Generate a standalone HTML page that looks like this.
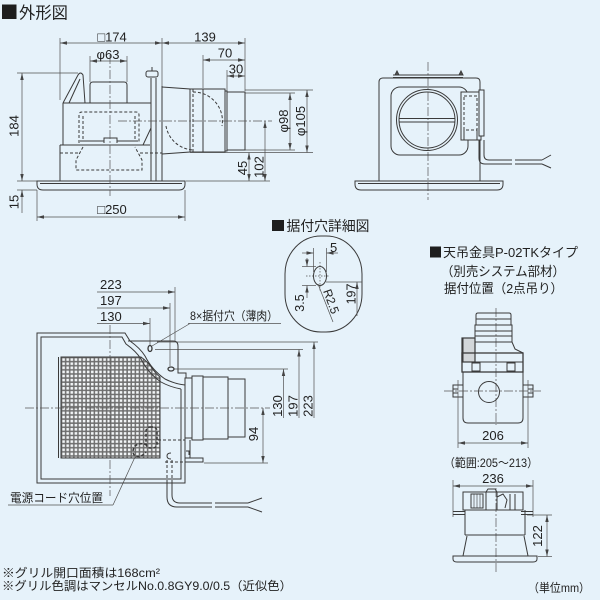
<!DOCTYPE html>
<html><head><meta charset="utf-8">
<style>
html,body{margin:0;padding:0;background:#e6f2fa;}
svg{display:block}
text{font-family:"Liberation Sans","Noto Sans CJK JP",sans-serif;fill:#222;}
.o{fill:none;stroke:#3a3a3a;stroke-width:1}
.dm{fill:none;stroke:#505050;stroke-width:.7}
.cl{fill:none;stroke:#555;stroke-width:.7;stroke-dasharray:9 2 2 2}
.hd{fill:none;stroke:#3a3a3a;stroke-width:1;stroke-dasharray:3 2}
.n{font-size:13px}
</style></head><body>
<svg width="600" height="600" viewBox="0 0 600 600" xmlns="http://www.w3.org/2000/svg">
<defs>
<marker id="a" viewBox="0 0 7 5" refX="7" refY="2.5" markerWidth="7" markerHeight="5" markerUnits="userSpaceOnUse" orient="auto-start-reverse"><path d="M0,0.8 L7,2.5 L0,4.2 Z" fill="#444"/></marker>
<pattern id="g" x="61" y="357" width="4.1" height="4.1" patternUnits="userSpaceOnUse"><rect width="4.1" height="4.1" fill="#6e6e6e"/><rect x="1.3" y="1.3" width="2.6" height="2.6" fill="#f2f5f7"/></pattern>
<clipPath id="gc"><path d="M61,357 H141 Q148,362 152,368 Q156,374 160,377 V458 H61 Z"/></clipPath>
</defs>
<rect width="600" height="600" fill="#e6f2fa"/>

<!-- ===== 外形図 ===== -->
<rect x="2" y="4.5" width="14.5" height="14.5" fill="#1e1e1e"/>
<text x="19" y="18.5" font-size="16.5" textLength="49" lengthAdjust="spacingAndGlyphs">外形図</text>

<g class="dm">
<line x1="60" y1="38" x2="60" y2="100"/>
<line x1="162" y1="38" x2="162" y2="86"/>
<line x1="245" y1="38" x2="245" y2="91"/>
<line x1="203" y1="55" x2="203" y2="88"/>
<line x1="227" y1="70" x2="227" y2="91"/>
<line x1="90" y1="56" x2="90" y2="82"/>
<line x1="127" y1="56" x2="127" y2="82"/>
<line x1="60" y1="43" x2="162" y2="43" marker-start="url(#a)" marker-end="url(#a)"/>
<line x1="162" y1="43" x2="245" y2="43" marker-start="url(#a)" marker-end="url(#a)"/>
<line x1="90" y1="61" x2="127" y2="61" marker-start="url(#a)" marker-end="url(#a)"/>
<line x1="203" y1="60" x2="245" y2="60" marker-start="url(#a)" marker-end="url(#a)"/>
<line x1="227" y1="76" x2="245" y2="76" marker-start="url(#a)" marker-end="url(#a)"/>
<line x1="17" y1="73" x2="78" y2="73"/>
<line x1="17" y1="181" x2="37" y2="181"/>
<line x1="17" y1="190" x2="37" y2="190"/>
<line x1="22" y1="73" x2="22" y2="181" marker-start="url(#a)" marker-end="url(#a)"/>
<line x1="22" y1="190" x2="22" y2="213" marker-start="url(#a)"/>
<line x1="37" y1="190" x2="37" y2="221"/>
<line x1="185" y1="190" x2="185" y2="221"/>
<line x1="37" y1="217" x2="185" y2="217" marker-start="url(#a)" marker-end="url(#a)"/>
<line x1="245" y1="90" x2="313" y2="90"/>
<line x1="245" y1="93" x2="295" y2="93"/>
<line x1="245" y1="150" x2="295" y2="150"/>
<line x1="190" y1="152.5" x2="313" y2="152.5"/>
<line x1="290" y1="93" x2="290" y2="150" marker-start="url(#a)" marker-end="url(#a)"/>
<line x1="307" y1="90" x2="307" y2="152.5" marker-start="url(#a)" marker-end="url(#a)"/>
<line x1="249" y1="152.5" x2="249" y2="181" marker-start="url(#a)" marker-end="url(#a)"/>
<line x1="265" y1="121" x2="265" y2="181" marker-start="url(#a)" marker-end="url(#a)"/>
<line x1="186" y1="181" x2="270" y2="181"/>
</g>
<g class="n">
<text x="112" y="41.5" text-anchor="middle">□174</text>
<text x="205" y="41.5" text-anchor="middle">139</text>
<text x="108" y="59" text-anchor="middle">φ63</text>
<text x="225" y="57.5" text-anchor="middle">70</text>
<text x="236" y="73.5" text-anchor="middle">30</text>
<text x="112" y="214" text-anchor="middle">□250</text>
<text transform="translate(18.5,126) rotate(-90)" text-anchor="middle">184</text>
<text transform="translate(18.5,202) rotate(-90)" text-anchor="middle">15</text>
<text transform="translate(288,121) rotate(-90)" text-anchor="middle">φ98</text>
<text transform="translate(305,121) rotate(-90)" text-anchor="middle">φ105</text>
<text transform="translate(247,168) rotate(-90)" text-anchor="middle">45</text>
<text transform="translate(263.5,167) rotate(-90)" text-anchor="middle">102</text>
</g>

<g class="o">
<path d="M37,181 H185 V184 Q185,190 179,190 H43 Q37,190 37,184 Z"/>
<line x1="40" y1="183.5" x2="182" y2="183.5"/>
<line x1="60" y1="145" x2="60" y2="181"/>
<line x1="63" y1="103" x2="63" y2="145"/>
<line x1="60" y1="145" x2="150" y2="145"/>
<path d="M63,103 L78,75 Q80.5,71 83,75 L85,103"/>
<line x1="69" y1="103" x2="80" y2="79"/>
<line x1="63" y1="103" x2="151" y2="103"/>
<path d="M90,103 V85 Q90,82 93,82 H124 Q127,82 127,85 V103"/>
<path d="M151,103 V128 L143,145"/>
<line x1="151" y1="78" x2="151" y2="181"/>
<line x1="156" y1="78" x2="156" y2="181"/>
<line x1="162" y1="86" x2="162" y2="181"/>
<rect x="146" y="71" width="12" height="6" rx="2"/>
<line x1="152" y1="67" x2="152" y2="71"/>
<path d="M104,143 V138 H117 V143"/>
<line x1="80" y1="141" x2="104" y2="141"/>
<line x1="117" y1="141" x2="138" y2="141"/>
<path d="M162,87 L190,89 V152 L162,154"/>
<line x1="190" y1="89" x2="203" y2="89"/>
<line x1="190" y1="152" x2="203" y2="152"/>
<rect x="203" y="89" width="22" height="63"/>
<path d="M225,91 H227 V151 H225"/>
<rect x="227" y="92" width="18" height="58"/>
</g>
<g class="hd">
<line x1="193" y1="89" x2="193" y2="152"/>
<path d="M79,143 V115 Q79,112 82,112 H136 Q139,112 139,115 V143"/>
<line x1="83" y1="116" x2="83" y2="140"/>
<line x1="135" y1="116" x2="135" y2="140"/>
<path d="M83,147 L76,160 V170 H142 V160 L135,147"/>
<line x1="60" y1="153" x2="78" y2="153"/>
<line x1="140" y1="153" x2="162" y2="153"/>
<path d="M193,92 A29,29 0 0 1 222,126"/>
<path d="M166,126 A29,29 0 0 0 193,150"/>
</g>
<line class="cl" x1="110" y1="55" x2="110" y2="196"/>
<line class="cl" x1="118" y1="121" x2="272" y2="121"/>

<!-- front view top right -->
<line class="cl" x1="428" y1="62" x2="428" y2="200"/>
<g class="o">
<path d="M379,181 V82 Q379,78 383,78 H476 Q480,78 480,82 V181"/>
<line x1="393" y1="75" x2="463" y2="75"/>
<line x1="393" y1="77.5" x2="463" y2="77.5"/>
<path d="M395,75 L397,71 L399,75 Z" fill="#555"/>
<path d="M459,75 L461,71 L463,75 Z" fill="#555"/>
<rect x="391" y="87" width="77" height="68" rx="9"/>
<circle cx="427" cy="120" r="30.5"/>
<circle cx="427" cy="120" r="28"/>
<line x1="399" y1="118.5" x2="455" y2="118.5"/>
<line x1="399" y1="122" x2="455" y2="122"/>
<rect x="461" y="92" width="20" height="48" fill="#e6f2fa"/>
<rect x="479" y="90" width="5" height="46" fill="#e6f2fa"/>
<path d="M464,130 V140 H477 V130"/>
<path d="M479,140 V158 Q479,164 485,164 H512"/>
<path d="M484,140 V155 Q484,160 489,160 H512"/>
<path d="M515,160 H542 M515,164 H542 M542,160 L551,155 M542,164 L551,168"/>
<path d="M355,181 H503 V184 Q503,190 497,190 H361 Q355,190 355,184 Z"/>
<line x1="358" y1="183.5" x2="500" y2="183.5"/>
</g>
<rect class="hd" x="464" y="96" width="13" height="34"/>

<!-- ===== 据付穴詳細図 ===== -->
<rect x="272" y="220" width="12" height="11" fill="#1e1e1e"/>
<text x="286.5" y="231" font-size="14" textLength="83" lengthAdjust="spacingAndGlyphs">据付穴詳細図</text>
<g class="o">
<rect x="285" y="236" width="77" height="96" rx="36" ry="38"/>
<ellipse cx="320" cy="276" rx="6.5" ry="9.5"/>
</g>
<g class="dm">
<line x1="320" y1="262" x2="320" y2="291" stroke-dasharray="1.5 1.5"/>
<line x1="306" y1="276" x2="330" y2="276" stroke-dasharray="1.5 1.5"/>
<line x1="313.5" y1="248" x2="313.5" y2="272"/>
<line x1="326.5" y1="248" x2="326.5" y2="272"/>
<line x1="302" y1="253" x2="313.5" y2="253" marker-end="url(#a)"/>
<line x1="338" y1="253" x2="326.5" y2="253" marker-end="url(#a)"/>
<line x1="302" y1="266.5" x2="316" y2="266.5"/>
<line x1="302" y1="285.5" x2="316" y2="285.5"/>
<line x1="307" y1="258" x2="307" y2="266.5" marker-end="url(#a)"/>
<line x1="307" y1="298" x2="307" y2="285.5" marker-end="url(#a)"/>
<line x1="326" y1="282" x2="362" y2="282"/>
<line x1="357" y1="316" x2="357" y2="282" marker-end="url(#a)"/>
<line x1="318" y1="284" x2="333" y2="322"/>
</g>
<text x="330" y="252" class="n">5</text>
<text transform="translate(304,303) rotate(-90)" text-anchor="middle" font-size="12.5">3.5</text>
<text transform="translate(355.5,294) rotate(-90)" text-anchor="middle" font-size="12.5">197</text>
<text transform="translate(323,291) rotate(70)" font-size="12">R2.5</text>

<!-- ===== 天吊金具 ===== -->
<rect x="430" y="246.5" width="11" height="11" fill="#1e1e1e"/>
<text x="443" y="257" font-size="13" textLength="135" lengthAdjust="spacingAndGlyphs">天吊金具P-02TKタイプ</text>
<text x="441" y="276" font-size="13" textLength="124" lengthAdjust="spacingAndGlyphs">（別売システム部材）</text>
<text x="444" y="293" font-size="13" textLength="119" lengthAdjust="spacingAndGlyphs">据付位置（2点吊り）</text>

<line class="cl" x1="496" y1="308" x2="496" y2="425"/>
<g class="o">
<path d="M476,325 V315 Q476,313 478,313 H509 Q511,313 511,315 V325"/>
<line x1="476" y1="319" x2="511" y2="319"/>
<rect x="475" y="325" width="37" height="17"/>
<line x1="475" y1="331" x2="512" y2="331"/>
<line x1="475" y1="336" x2="512" y2="336"/>
<path d="M475,342 L473,353 M512,342 L515,349 L523,353"/>
<rect x="462" y="338" width="13" height="24" fill="#d2d6d9" stroke-width="1.2"/>
<line x1="462.5" y1="338" x2="462.5" y2="362" stroke-width="2"/>
<rect x="462" y="353" width="61" height="19" stroke-width="1.3"/>
<line x1="462" y1="362" x2="523" y2="362"/>
<rect x="472" y="363" width="8" height="8"/>
<rect x="507" y="363" width="8" height="8"/>
<path d="M463,372 V418 Q463,423 468,423 H518 Q523,423 523,418 V372"/>
<circle cx="489" cy="392" r="10.5"/>
<rect x="453" y="385" width="10" height="12"/>
<path d="M453,389 H458 M453,393 H458"/>
<rect x="523" y="385" width="10" height="12"/>
<path d="M528,389 H533 M528,393 H533"/>
</g>
<line class="cl" x1="444" y1="391" x2="541" y2="391"/>
<g class="dm">
<line x1="458" y1="380" x2="458" y2="448"/>
<line x1="528" y1="380" x2="528" y2="448"/>
<line x1="458" y1="443" x2="528" y2="443" marker-start="url(#a)" marker-end="url(#a)"/>
</g>
<text x="493" y="440" text-anchor="middle" class="n">206</text>
<text x="444" y="467" font-size="12" textLength="94" lengthAdjust="spacingAndGlyphs">（範囲:205〜213）</text>

<!-- side view of P-02TK -->
<g class="dm">
<line x1="453" y1="480" x2="453" y2="517"/>
<line x1="533" y1="480" x2="533" y2="517"/>
<line x1="453" y1="486" x2="533" y2="486" marker-start="url(#a)" marker-end="url(#a)"/>
<line x1="527" y1="515" x2="552" y2="515"/>
<line x1="538" y1="556.5" x2="552" y2="556.5"/>
<line x1="547" y1="515" x2="547" y2="556.5" marker-start="url(#a)" marker-end="url(#a)"/>
</g>
<text x="493" y="483" text-anchor="middle" class="n">236</text>
<text transform="translate(542,536) rotate(-90)" text-anchor="middle" class="n">122</text>
<line class="cl" x1="496" y1="488" x2="496" y2="573"/>
<g class="o">
<rect x="463" y="492" width="60" height="18"/>
<rect x="471" y="494" width="12" height="14"/>
<path d="M474,494 V508 M477,494 V508 M480,494 V508" stroke-width=".6"/>
<path d="M486,510 V492 L488,489 H495 L497,492 V510"/>
<path d="M497,497 L503,494 L507,500 L505,508 M510,494 V510 M515,494 V510"/>
<line x1="453" y1="511.5" x2="465" y2="511.5"/>
<line x1="453" y1="514.5" x2="465" y2="514.5"/>
<line x1="521" y1="511.5" x2="533" y2="511.5"/>
<line x1="521" y1="514.5" x2="533" y2="514.5"/>
<path d="M465,510 V535 M525,510 V535"/>
<line x1="465" y1="535" x2="525" y2="535"/>
<path d="M467,536 L463,556 M524,536 L528,556"/>
<path d="M453,556 H537 V559 Q537,562 533,562 H457 Q453,562 453,559 Z"/>
</g>
<text x="528" y="592" font-size="12" textLength="62" lengthAdjust="spacingAndGlyphs">（単位mm）</text>

<!-- ===== plan view bottom-left ===== -->
<g class="n">
<text x="100" y="289">223</text>
<text x="100" y="305">197</text>
<text x="100" y="321">130</text>
</g>
<g class="dm">
<line x1="97" y1="292" x2="175" y2="292" marker-end="url(#a)"/>
<line x1="97" y1="308" x2="170" y2="308" marker-end="url(#a)"/>
<line x1="97" y1="323.5" x2="150" y2="323.5" marker-end="url(#a)"/>
<line x1="175" y1="287" x2="175" y2="341"/>
<line x1="170" y1="303" x2="170" y2="366"/>
<line x1="150" y1="318" x2="150" y2="345"/>
<line x1="188" y1="323.5" x2="281" y2="323.5"/>
<line x1="190" y1="323.5" x2="152" y2="346"/>
<line x1="157" y1="342" x2="318" y2="342"/>
<line x1="155" y1="349.5" x2="303" y2="349.5"/>
<line x1="174" y1="369" x2="288" y2="369"/>
<line x1="314" y1="418" x2="314" y2="342" marker-end="url(#a)"/>
<line x1="299" y1="418" x2="299" y2="349.5" marker-end="url(#a)"/>
<line x1="283.5" y1="418" x2="283.5" y2="369" marker-end="url(#a)"/>
<line x1="263" y1="408" x2="263" y2="463" marker-start="url(#a)" marker-end="url(#a)"/>
<line x1="204" y1="463" x2="268" y2="463"/>
<line x1="8" y1="505" x2="113" y2="505"/>
<line x1="113" y1="505" x2="135" y2="457"/>
</g>
<text x="190" y="320" font-size="12" textLength="88" lengthAdjust="spacingAndGlyphs">8×据付穴（薄肉）</text>
<text transform="translate(282,406) rotate(-90)" text-anchor="middle" class="n">130</text>
<text transform="translate(297.5,406) rotate(-90)" text-anchor="middle" class="n">197</text>
<text transform="translate(312.5,406) rotate(-90)" text-anchor="middle" class="n">223</text>
<text transform="translate(258,434) rotate(-90)" text-anchor="middle" class="n">94</text>

<rect x="61" y="357" width="99" height="101" fill="url(#g)" clip-path="url(#gc)"/>
<g class="o">
<path d="M61,357 H141 Q148,362 152,368 Q156,374 160,377 V458 H61 Z"/>
<line x1="58.5" y1="357" x2="58.5" y2="458"/>
<path d="M185,385 V483 H37 V333 H125 L130,341 Q140,348 145,356 Q152,370 165,379 Q175,384 185,385"/>
<path d="M181,389 V479 H41 V337 H122 L126,344 Q136,351 141,359 Q148,373 161,382 Q170,387 181,389"/>
<path d="M128,341 H173 Q178,341 178,346 V373 H186 V378"/>
<ellipse cx="150" cy="348.5" rx="2" ry="3" stroke-width="1.3"/>
<ellipse cx="171" cy="369" rx="3" ry="2" stroke-width="1.3"/>
<rect x="185" y="378" width="7" height="60"/>
<rect x="192" y="376" width="11" height="64"/>
<rect x="203" y="377" width="25" height="62"/>
<rect x="228" y="379" width="17" height="58"/>
<path d="M190,440 V458"/>
<rect x="185" y="458" width="18" height="4"/>
<path d="M186,451 h3 v4"/>
<path d="M167,480 V497 Q167,507 177,507 H212 M172,480 V495 Q172,503 180,503 H212"/>
<path d="M215,503 H248 M215,507 H248 M248,503 L262,498 M248,507 L262,512"/>
<path d="M171,453 Q167,453 167,456 Q167,459 171,459"/>
</g>
<g class="hd">
<line x1="158" y1="440" x2="185" y2="440"/>
<line x1="165" y1="462" x2="200" y2="462"/>
<path d="M167,460 V480 M172,460 V480"/>
<rect x="146" y="427" width="11" height="21" rx="4" stroke-width="1.5"/>
<path d="M147,445 Q140,442 135,446 Q131,452 135,456 Q141,458 146,452" stroke-width="1.5"/>
</g>
<line class="cl" x1="25" y1="408" x2="270" y2="408"/>
<line class="cl" x1="110" y1="325" x2="110" y2="496"/>
<text x="10" y="502" font-size="12" textLength="93" lengthAdjust="spacingAndGlyphs">電源コード穴位置</text>

<!-- notes -->
<text x="2" y="577" font-size="12" textLength="158" lengthAdjust="spacingAndGlyphs">※グリル開口面積は168cm²</text>
<text x="2" y="590" font-size="12" textLength="290" lengthAdjust="spacingAndGlyphs">※グリル色調はマンセルNo.0.8GY9.0/0.5（近似色）</text>
</svg>
</body></html>
